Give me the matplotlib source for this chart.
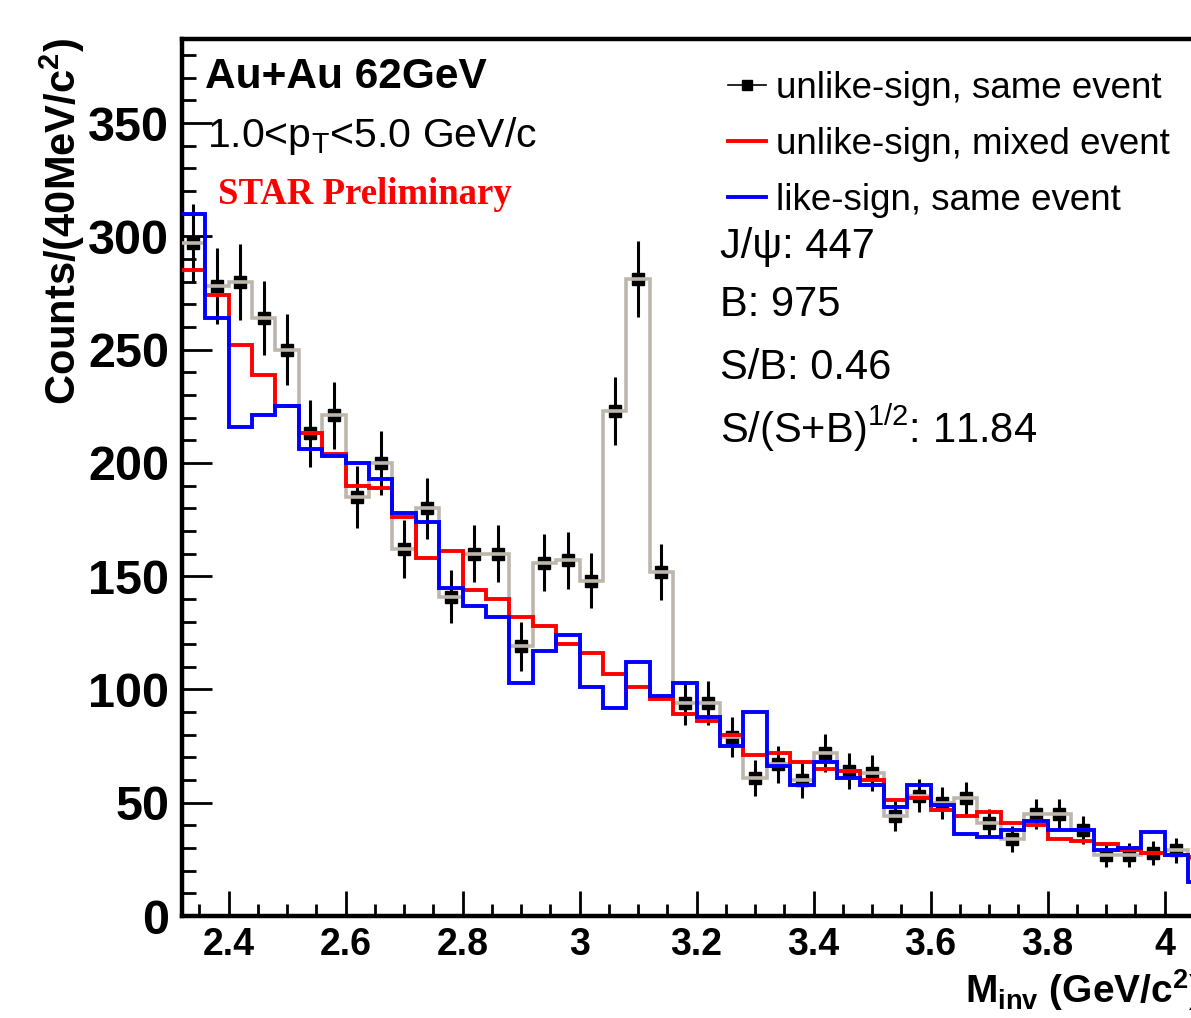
import numpy as np
import matplotlib
matplotlib.use("Agg")
import matplotlib.pyplot as plt
from matplotlib.lines import Line2D
from matplotlib.ticker import MultipleLocator

plt.rcParams['font.family'] = ['Liberation Sans', 'DejaVu Sans']
plt.rcParams['mathtext.fontset'] = 'custom'
plt.rcParams['mathtext.rm'] = 'Liberation Sans'
plt.rcParams['mathtext.it'] = 'Liberation Sans:italic'
plt.rcParams['mathtext.bf'] = 'Liberation Sans:bold'

# binning: 40 MeV bins starting at 2.32 GeV/c^2
bin_start = 2.32
bin_width = 0.04

# counts per bin
same_event = [297, 278, 280, 264, 250, 213, 221, 185, 200, 162,
              180, 141, 160, 160, 119, 156, 157, 148, 223, 281,
              152, 94, 94, 79, 61, 67, 60, 72, 64, 63,
              44, 53, 50, 52, 41, 34, 45, 45, 38, 27,
              27, 28, 29, 25]
mixed_event = [285, 274, 252, 239, 225, 213, 204, 190, 189, 176,
               158, 161, 144, 140, 132, 128, 120, 116, 107, 101,
               96, 89, 86, 80, 71, 72, 68, 65, 64, 60,
               51, 52, 47, 44, 46, 41, 40, 34, 33, 32,
               29, 28, 27, 26]
like_sign = [310, 264, 216, 221, 225, 206, 203, 200, 193, 178,
             174, 145, 137, 132, 103, 117, 124, 101, 92, 112,
             97, 103, 88, 75, 90, 66, 58, 68, 61, 58,
             48, 58, 49, 36, 35, 38, 42, 38, 38, 29,
             30, 37, 27, 15]

legend_labels = ['unlike-sign, same event', 'unlike-sign, mixed event',
                 'like-sign, same event']
stats_lines = ['J/\u03c8: 447', 'B: 975', 'S/B: 0.46',
               r'S/(S+B)$^{\mathrm{1/2}}$: 11.84']

same_event = np.array(same_event, dtype=float)
mixed_event = np.array(mixed_event, dtype=float)
like_sign = np.array(like_sign, dtype=float)
nb = len(same_event)
edges = bin_start + bin_width * np.arange(nb + 1)
centers = 0.5 * (edges[:-1] + edges[1:])

W, H = 1191, 1018
fig = plt.figure(figsize=(W / 100, H / 100), dpi=100)

def fx(px):
    return px / W

def fy(py):
    return 1 - py / H

x0, x1 = 2.32, 4.18
ppu = 585.0
ax = fig.add_axes([fx(181.7), fy(916), (x1 - x0) * ppu / W, (916 - 39.3) / H])

grey = '#bdb6ad'
ax.errorbar(centers, same_event, yerr=np.sqrt(same_event), fmt='s', color='black',
            ms=8.5, elinewidth=2.2, capsize=0, zorder=2)
ax.stairs(same_event, edges, baseline=None, color=grey, lw=2.6, zorder=3)
ax.stairs(mixed_event, edges, baseline=None, color='#ff0000', lw=2.8, zorder=4)
ax.stairs(like_sign, edges, baseline=None, color='#0000ff', lw=2.8, zorder=5)

ax.set_xlim(x0, x1)
ax.set_ylim(0, 387)
ax.xaxis.set_major_locator(MultipleLocator(0.2))
ax.xaxis.set_minor_locator(MultipleLocator(0.05))
ax.yaxis.set_major_locator(MultipleLocator(50))
ax.yaxis.set_minor_locator(MultipleLocator(10))
ax.tick_params(axis='both', which='both', direction='in', width=2.0, top=False, right=False)
ax.tick_params(axis='y', which='major', length=21.5, pad=9, labelsize=35)
ax.tick_params(axis='y', which='minor', length=10)
ax.tick_params(axis='x', which='major', length=18, pad=8, labelsize=27)
ax.tick_params(axis='x', which='minor', length=8.5)
ax.xaxis.set_major_formatter(matplotlib.ticker.FuncFormatter(lambda v, p: f'{v:g}'))
for lab in ax.get_xticklabels() + ax.get_yticklabels():
    lab.set_fontweight('bold')
for s in ax.spines.values():
    s.set_linewidth(3.2)

# axis titles
fig.text(fx(62), fy(222), r'Counts/(40MeV/c$^{\mathbf{2}}$)', rotation=90,
         ha='center', va='center', fontsize=30, fontweight='bold')
fig.text(fx(965), fy(990), r'M$_{\mathbf{inv}}$ (GeV/c$^{\mathbf{2}}$)',
         ha='left', va='center', fontsize=28, fontweight='bold')

# annotations
fig.text(fx(205), fy(77), 'Au+Au 62GeV', ha='left', va='center',
         fontsize=30.5, fontweight='bold')
fig.text(fx(207), fy(136), r'1.0<p$_{\mathrm{T}}$<5.0 GeV/c', ha='left', va='center',
         fontsize=29.5)
fig.text(fx(218), fy(195), 'STAR Preliminary', ha='left', va='center',
         fontsize=26.5, fontweight='bold', color='#ff0000', family='Liberation Serif')

for txt, ypx in zip(stats_lines, [247, 305, 368, 428]):
    fig.text(fx(720), fy(ypx), txt, ha='left', va='center', fontsize=30)

handles = [Line2D([], [], color='black', lw=1.2, marker='s', ms=7),
           Line2D([], [], color='#ff0000', lw=2.8),
           Line2D([], [], color='#0000ff', lw=2.8)]
ax.legend(handles, legend_labels, loc='upper left', bbox_to_anchor=(fx(728), fy(71)),
          bbox_transform=fig.transFigure, frameon=False, fontsize=26.5,
          borderpad=0, borderaxespad=0, handlelength=1.03, handletextpad=0.28,
          labelspacing=0.57)

fig.savefig('out.png', dpi=100)
